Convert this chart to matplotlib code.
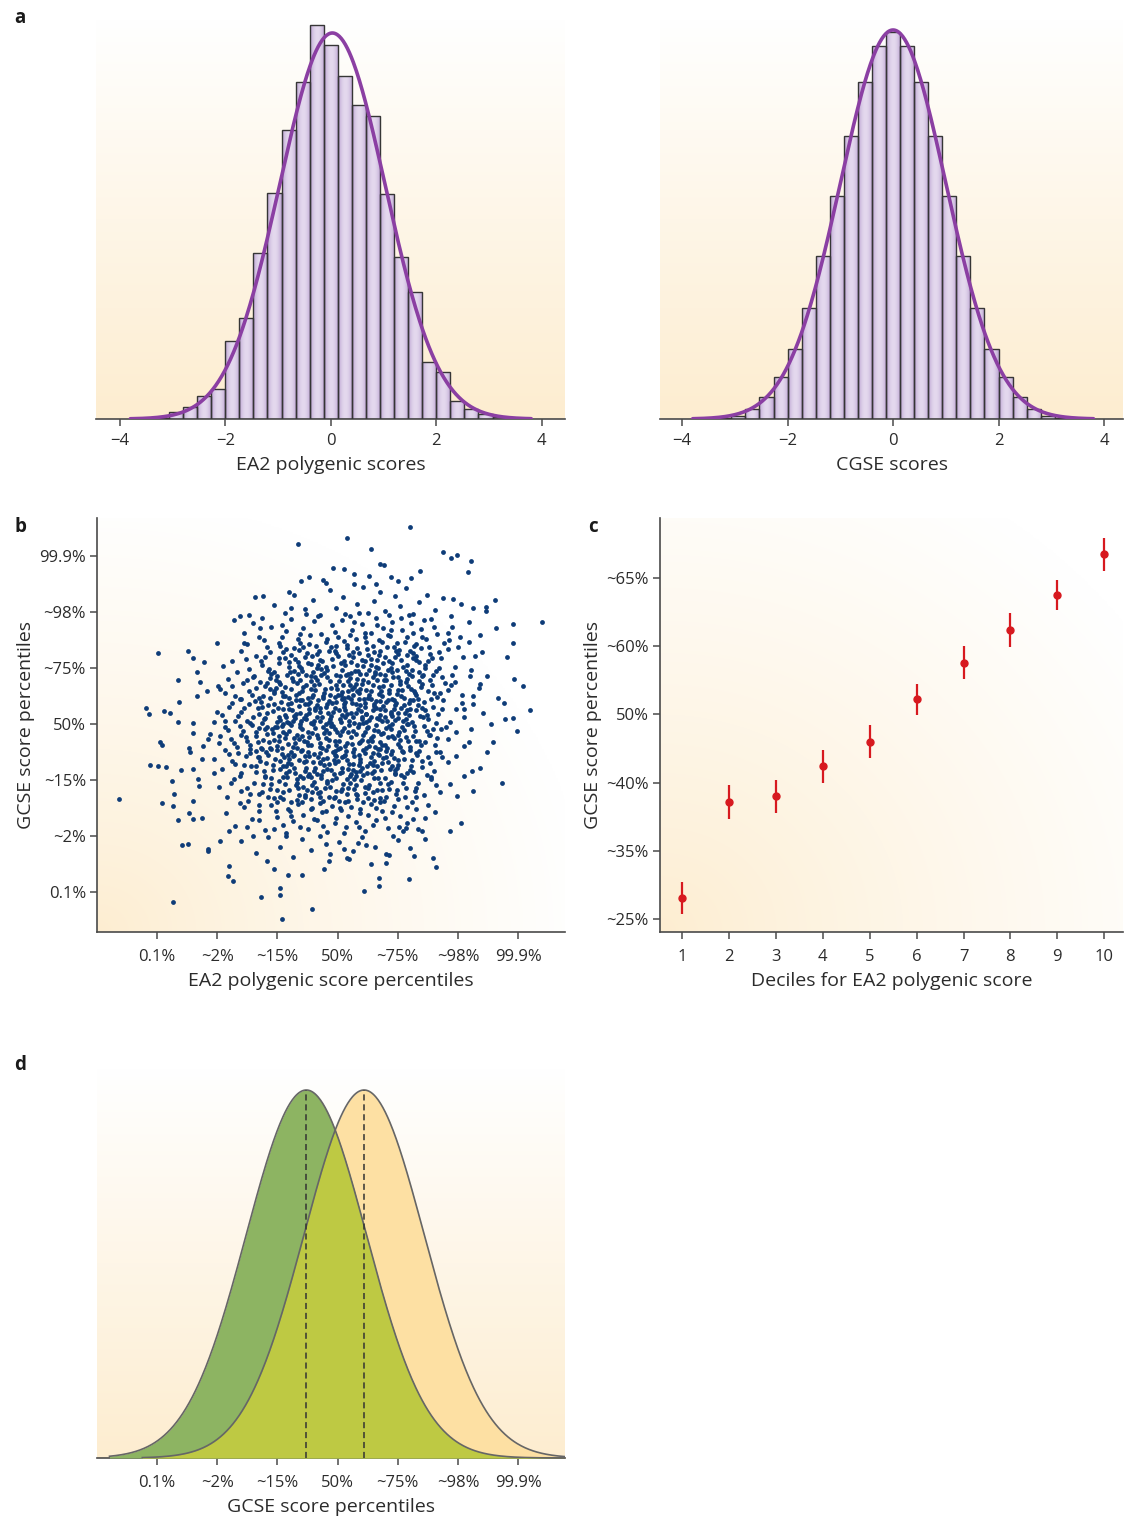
import numpy as np
import matplotlib.pyplot as plt
from matplotlib.colors import to_rgb

plt.rcParams['font.family'] = ['Open Sans', 'DejaVu Sans']
plt.rcParams['axes.unicode_minus'] = True

W, H = 1124, 1519

# ---------------- data ----------------
# panel a: histogram bins (width 4/15, one edge at -2), heights
a_bin_width = 4 / 15
a_first_edge = -2 - 5 * a_bin_width
ea2_counts = [1, 7, 12, 23, 30, 78, 101, 166, 226, 289, 337, 394, 374,
              343, 314, 303, 225, 162, 127, 57, 47, 18, 10, 5, 2, 1]
cgse_counts = [1, 3, 10, 22, 42, 70, 111, 163, 223, 283, 337, 373, 387,
               373, 337, 283, 223, 163, 111, 70, 42, 22, 10, 3, 1, 0]
# fitted normal curves: mean, sd, peak height
ea2_fit = (0.03, 1.0, 386)
cgse_fit = (0.0, 1.0, 389)
a_ticks = [-4, -2, 0, 2, 4]

# panel b / d percentile axis (z-score positions)
pct_pos = [-3, -2, -1, 0, 1, 2, 3]
pct_labels = ['0.1%', '~2%', '~15%', '50%', '~75%', '~98%', '99.9%']

# panel b: scatter points (EA2 z, GCSE z)
b_outer = [(-3.64,-1.34),(-3.19,0.29),(-3.13,0.17),(-2.98,1.27),(-3.12,-0.73),(-2.98,-0.75),(-2.86,-0.77),
    (-2.92,-1.41),(-2.74,-3.19),(-2.95,-0.33),(-2.92,-0.38),(-2.88,0.23),(-2.78,0.19),(-2.66,0.79),(-2.64,0.39),
    (-2.66,0.04),(-2.60,-0.83),(-2.75,-1.02),(-2.72,-1.26),(-2.74,-1.47),(-2.66,-1.71),(-2.59,-2.16),(-2.48,-2.14),
    (-2.49,1.30),(-2.41,1.18),(-2.33,0.93),(-2.28,0.74),(-2.34,0.50),(-2.41,0.02),(-2.41,-0.17),(-2.47,-0.44),
    (-2.46,-0.50),(-2.41,-0.81),(-2.32,-0.98),(-2.30,-1.11),(-2.41,-1.38),(-2.47,-1.59),(-2.41,-1.70),(-2.25,-1.68),
    (-2.22,1.11),(-2.17,0.59),(-2.15,-0.27),(-2.23,-0.39),(-2.26,-0.63),(-2.15,-2.23),(-2.16,-2.27),(-2.00,1.44),
    (-2.05,0.04),(-1.99,0.68),(-2.05,-0.87),(-1.95,-2.10),(-1.90,1.04),(-1.80,-1.92),(-1.80,-2.54),(-1.83,-2.72),
    (-1.74,-2.81),(-1.72,1.86),(-1.63,1.93),(-1.47,1.94),(-1.56,1.44),(-1.29,1.72),(-1.38,2.26),(-1.24,2.29),
    (-1.28,-3.09),(-1.18,-2.45),(-1.05,-2.60),(-0.95,-2.93),(-0.95,-3.05),(-0.92,-3.49),(-0.83,-2.70),(-0.80,2.36),
    (-0.77,2.07),(-0.66,3.22),(-0.61,2.56),(-0.47,2.63),(-0.25,2.57),(-0.08,2.79),(0.15,3.33),(0.10,2.76),
    (0.28,2.68),(0.28,2.50),(0.56,3.13),(0.53,2.65),(0.71,2.86),(0.77,2.84),(0.89,2.62),(1.21,3.52),(1.22,2.61),
    (1.37,2.74),(1.76,3.07),(1.89,2.96),(1.99,3.01),(2.22,2.92),(2.16,2.71),(1.92,2.24),(2.25,2.08),(2.46,2.09),
    (2.61,2.22),(2.46,2.01),(2.92,1.79),(3.40,1.82),(2.64,1.72),(2.82,1.20),(2.92,1.44),(3.09,0.68),(2.93,0.80),
    (3.19,0.25),(2.98,-0.13),(2.92,0.11),(2.79,0.08),(2.76,0.38),(2.67,0.47),(2.73,-1.05),(2.58,-0.33),(2.49,-0.51),
    (2.55,-0.01),(2.25,-1.20),(2.36,-0.78),(2.24,-0.84),(2.10,-0.93),(2.05,-1.77),(1.87,-1.92),(1.98,-1.29),
    (1.58,-2.39),(1.63,-2.56),(1.27,-2.36),(1.19,-2.78),(1.09,-1.92),(1.13,-1.86),(0.92,-2.01),(0.80,-2.33),
    (0.80,-2.48),(0.68,-2.75),(0.68,-2.90),(0.56,-2.51),(0.44,-2.99),(0.47,-2.16),(0.34,-2.13),(0.19,-2.42),
    (0.10,-2.24),(-0.14,-2.45),(-0.23,-2.60),(-0.42,-3.30),(-0.60,-2.70),(1.34,-1.88),(1.40,-1.91),(2.22,-0.10),
    (2.19,-0.33),(2.10,0.26),(2.07,0.38),(2.25,0.50),(2.37,0.71),(2.49,0.86),(2.28,1.22),(2.19,1.46),(2.36,1.58)]
b_core = [(-1.05,2.12),(-0.88,1.98),(-0.72,2.31),(-0.55,2.05),(-0.41,2.22),(-0.3,1.95),(-0.12,2.4),(-0.02,2.08),
    (0.09,2.27),(0.21,1.93),(0.33,2.15),(0.42,2.44),(0.5,1.99),(0.61,2.2),(0.7,2.36),(0.78,2.02),(0.86,1.94),
    (0.95,2.28),(1.04,2.1),(1.13,2.42),(1.25,1.97),(1.36,2.18),(1.49,2.3),(1.62,2.03),(1.75,2.25),(1.88,1.92),
    (2.05,2.14),(0.64,2.5),(-0.2,2.52),(1.01,2.55),
    (-1.55,1.62),(-1.4,1.81),(-1.22,1.5),(-1.1,1.74),(-0.98,1.45),(-0.85,1.66),(-0.77,1.88),(-0.66,1.52),
    (-0.58,1.71),(-0.47,1.43),(-0.39,1.84),(-0.28,1.6),(-0.2,1.47),(-0.1,1.77),(0.0,1.55),(0.07,1.86),(0.16,1.41),
    (0.24,1.68),(0.31,1.52),(0.4,1.79),(0.47,1.46),(0.55,1.63),(0.63,1.89),(0.69,1.5),(0.76,1.72),(0.84,1.58),
    (0.91,1.83),(0.99,1.44),(1.07,1.67),(1.15,1.55),(1.22,1.8),(1.3,1.42),(1.39,1.69),(1.47,1.51),(1.56,1.87),
    (1.66,1.6),(1.77,1.45),(1.9,1.73),(2.03,1.56),(2.18,1.82),(-0.52,1.96),(0.36,1.98),(1.19,1.95),
    (-1.75,1.12),(-1.6,1.31),(-1.48,0.98),(-1.36,1.22),(-1.25,1.05),(-1.17,1.37),(-1.06,0.93),(-0.97,1.18),
    (-0.9,1.29),(-0.81,1.02),(-0.73,1.35),(-0.66,1.11),(-0.59,0.95),(-0.51,1.26),(-0.44,1.07),(-0.36,1.39),
    (-0.29,1.15),(-0.22,0.91),(-0.14,1.3),(-0.07,1.04),(0.01,1.21),(0.08,0.97),(0.15,1.36),(0.22,1.1),(0.29,0.94),
    (0.35,1.27),(0.42,1.03),(0.49,1.33),(0.56,1.16),(0.62,0.92),(0.69,1.24),(0.75,1.08),(0.82,1.38),(0.88,0.99),
    (0.95,1.19),(1.02,1.32),(1.09,1.01),(1.16,1.23),(1.23,0.96),(1.31,1.14),(1.38,1.35),(1.46,1.06),(1.54,1.25),
    (1.63,0.94),(1.72,1.17),(1.83,1.33),(1.95,1.02),(2.08,1.2),(2.22,0.97),(2.4,1.28),(-0.02,1.4),(0.58,1.4),
    (1.27,1.39),(-0.95,1.4),(0.18,0.9),
    (-1.95,0.62),(-1.82,0.81),(-1.7,0.5),(-1.58,0.73),(-1.47,0.58),(-1.39,0.86),(-1.3,0.47),(-1.21,0.68),
    (-1.13,0.82),(-1.05,0.55),(-0.98,0.75),(-0.91,0.49),(-0.84,0.88),(-0.77,0.63),(-0.7,0.52),(-0.63,0.79),
    (-0.57,0.66),(-0.5,0.46),(-0.44,0.85),(-0.37,0.6),(-0.31,0.72),(-0.24,0.5),(-0.18,0.83),(-0.11,0.64),
    (-0.05,0.48),(0.02,0.77),(0.08,0.57),(0.14,0.87),(0.2,0.69),(0.26,0.51),(0.32,0.8),(0.38,0.62),(0.44,0.45),
    (0.5,0.74),(0.56,0.58),(0.62,0.89),(0.68,0.66),(0.74,0.49),(0.8,0.78),(0.86,0.6),(0.92,0.84),(0.98,0.53),
    (1.04,0.71),(1.1,0.46),(1.16,0.81),(1.22,0.63),(1.29,0.55),(1.35,0.76),(1.42,0.88),(1.5,0.59),(1.57,0.7),
    (1.65,0.48),(1.74,0.83),(1.84,0.61),(1.95,0.74),(2.07,0.52),(2.2,0.86),(2.35,0.64),(-0.66,0.9),(0.11,0.47),
    (0.71,0.9),(1.33,0.45),(-1.1,0.9),(0.47,0.9),(-0.28,0.88),
    (-2.0,0.21),(-1.88,0.05),(-1.76,0.37),(-1.65,0.14),(-1.55,0.29),(-1.46,0.02),(-1.38,0.41),(-1.3,0.18),
    (-1.22,0.08),(-1.15,0.33),(-1.08,0.23),(-1.01,0.03),(-0.94,0.39),(-0.88,0.15),(-0.81,0.27),(-0.75,0.06),
    (-0.69,0.43),(-0.62,0.2),(-0.56,0.11),(-0.5,0.35),(-0.44,0.01),(-0.38,0.25),(-0.32,0.42),(-0.26,0.13),
    (-0.2,0.31),(-0.14,0.04),(-0.08,0.22),(-0.02,0.4),(0.04,0.09),(0.1,0.3),(0.16,0.17),(0.22,0.44),(0.28,0.02),
    (0.34,0.26),(0.4,0.12),(0.46,0.38),(0.52,0.07),(0.58,0.24),(0.64,0.41),(0.7,0.16),(0.76,0.32),(0.82,0.05),
    (0.88,0.21),(0.94,0.43),(1.0,0.1),(1.06,0.28),(1.12,0.19),(1.18,0.37),(1.24,0.03),(1.3,0.24),(1.37,0.14),
    (1.44,0.4),(1.51,0.08),(1.59,0.3),(1.67,0.18),(1.76,0.42),(1.86,0.04),(1.97,0.27),(2.1,0.12),(2.25,0.35),
    (2.42,0.2),(-0.9,0.0),(-0.47,0.19),(0.07,0.45),(0.55,0.45),(1.15,0.0),(-0.11,0.14),(0.31,0.35),(0.79,0.12),
    (-1.6,0.44),
    (-2.12,-0.18),(-1.98,-0.35),(-1.87,-0.06),(-1.77,-0.27),(-1.67,-0.41),(-1.58,-0.12),(-1.5,-0.3),(-1.42,-0.02),
    (-1.35,-0.22),(-1.28,-0.44),(-1.21,-0.09),(-1.14,-0.33),(-1.07,-0.16),(-1.0,-0.39),(-0.93,-0.04),(-0.87,-0.25),
    (-0.8,-0.13),(-0.74,-0.42),(-0.68,-0.2),(-0.62,-0.01),(-0.56,-0.31),(-0.5,-0.15),(-0.44,-0.37),(-0.38,-0.07),
    (-0.32,-0.26),(-0.26,-0.43),(-0.2,-0.11),(-0.14,-0.29),(-0.08,-0.03),(-0.02,-0.38),(0.04,-0.19),(0.1,-0.08),
    (0.16,-0.34),(0.22,-0.23),(0.28,-0.45),(0.34,-0.05),(0.4,-0.28),(0.46,-0.14),(0.52,-0.4),(0.58,-0.21),
    (0.64,-0.02),(0.7,-0.32),(0.76,-0.17),(0.82,-0.44),(0.88,-0.1),(0.94,-0.26),(1.0,-0.36),(1.07,-0.06),
    (1.14,-0.24),(1.21,-0.41),(1.28,-0.13),(1.36,-0.3),(1.44,-0.04),(1.53,-0.2),(1.62,-0.38),(1.72,-0.1),
    (1.83,-0.27),(1.96,-0.15),(2.1,-0.4),(-1.1,-0.45),(-0.35,-0.2),(0.25,-0.12),(0.67,-0.45),(1.17,0.0),
    (-0.71,-0.34),(0.01,-0.45),(0.5,-0.3),(-1.6,-0.2),(0.9,-0.01),(-0.15,-0.17),
    (-2.05,-0.62),(-1.92,-0.8),(-1.8,-0.53),(-1.7,-0.71),(-1.61,-0.88),(-1.52,-0.58),(-1.44,-0.76),(-1.36,-0.49),
    (-1.29,-0.67),(-1.22,-0.85),(-1.15,-0.55),(-1.08,-0.73),(-1.01,-0.47),(-0.95,-0.81),(-0.89,-0.6),(-0.83,-0.7),
    (-0.77,-0.5),(-0.71,-0.87),(-0.65,-0.64),(-0.59,-0.46),(-0.53,-0.78),(-0.47,-0.57),(-0.41,-0.68),(-0.35,-0.89),
    (-0.29,-0.52),(-0.23,-0.74),(-0.17,-0.61),(-0.11,-0.83),(-0.05,-0.48),(0.01,-0.66),(0.07,-0.79),(0.13,-0.56),
    (0.19,-0.72),(0.25,-0.5),(0.31,-0.86),(0.37,-0.63),(0.43,-0.47),(0.49,-0.75),(0.55,-0.59),(0.61,-0.84),
    (0.67,-0.54),(0.73,-0.7),(0.8,-0.49),(0.87,-0.8),(0.94,-0.61),(1.01,-0.73),(1.08,-0.51),(1.16,-0.88),
    (1.24,-0.65),(1.32,-0.55),(1.41,-0.77),(1.5,-0.6),(1.6,-0.85),(1.71,-0.5),(1.83,-0.69),(1.97,-0.57),
    (-0.48,-0.9),(0.22,-0.9),(-1.25,-0.45),(0.6,-0.66),(-0.05,-0.7),(0.95,-0.9),(-0.8,-0.62),(0.35,-0.74),
    (1.2,-0.46),
    (-1.98,-1.12),(-1.84,-1.3),(-1.72,-0.98),(-1.6,-1.2),(-1.49,-1.37),(-1.39,-1.05),(-1.3,-1.25),(-1.21,-0.93),
    (-1.13,-1.16),(-1.05,-1.33),(-0.98,-1.02),(-0.91,-1.22),(-0.84,-0.95),(-0.77,-1.4),(-0.7,-1.1),(-0.64,-1.28),
    (-0.57,-0.97),(-0.51,-1.18),(-0.45,-1.35),(-0.39,-1.04),(-0.33,-1.24),(-0.27,-0.92),(-0.21,-1.14),
    (-0.15,-1.31),(-0.09,-1.0),(-0.03,-1.2),(0.03,-1.38),(0.09,-1.07),(0.15,-1.26),(0.21,-0.94),(0.27,-1.17),
    (0.33,-1.34),(0.39,-1.01),(0.46,-1.23),(0.53,-1.09),(0.6,-1.36),(0.67,-0.96),(0.74,-1.19),(0.81,-1.3),
    (0.89,-1.03),(0.97,-1.25),(1.05,-0.91),(1.14,-1.15),(1.23,-1.39),(1.33,-1.06),(1.44,-1.27),(1.56,-0.99),
    (1.7,-1.21),(1.86,-1.08),(-0.6,-1.4),(0.12,-1.4),(-1.0,-1.4),(0.42,-1.4),(-0.25,-1.38),(0.7,-1.4),
    (-1.85,-1.6),(-1.7,-1.82),(-1.56,-1.48),(-1.43,-1.7),(-1.31,-1.55),(-1.2,-1.9),(-1.1,-1.45),(-1.0,-1.66),
    (-0.91,-1.8),(-0.82,-1.52),(-0.74,-1.74),(-0.66,-1.44),(-0.58,-1.63),(-0.5,-1.88),(-0.42,-1.5),(-0.34,-1.72),
    (-0.26,-1.58),(-0.18,-1.93),(-0.1,-1.46),(-0.02,-1.68),(0.06,-1.54),(0.14,-1.84),(0.22,-1.49),(0.3,-1.75),
    (0.38,-1.6),(0.46,-1.92),(0.55,-1.43),(0.64,-1.71),(0.73,-1.56),(0.83,-1.86),(0.93,-1.47),(1.04,-1.65),
    (1.16,-1.78),(1.3,-1.52),(1.45,-1.69),(1.62,-1.58),(-0.85,-1.95),(0.1,-1.95),(-0.3,-1.42),(0.5,-1.62),
    (-1.6,-2.1),(-1.35,-2.3),(-1.15,-2.02),(-0.95,-2.2),(-0.75,-2.38),(-0.6,-2.05),(-0.45,-2.25),(-0.3,-2.0),
    (-0.12,-2.32),(0.02,-2.12),(0.25,-2.28),(0.4,-2.02),(0.62,-2.2),(0.85,-2.35),(1.0,-2.08),(1.2,-2.22),
    (-0.85,-2.0),(0.15,-2.4),(-0.2,-2.15),(1.45,-2.05),
    (-0.95,0.72),(-0.83,0.35),(-0.72,0.95),(-0.6,0.58),(-0.48,0.27),(-0.37,0.84),(-0.25,0.47),(-0.13,0.08),
    (-0.01,0.63),(0.11,0.36),(0.23,0.91),(0.35,0.55),(0.47,0.18),(0.59,0.69),(0.71,0.41),(0.83,0.97),(0.95,0.33),
    (1.07,0.6),(1.19,0.9),(1.31,0.52),(-0.97,-0.22),(-0.85,0.12),(-0.73,-0.55),(-0.61,0.05),(-0.49,-0.38),
    (-0.37,0.29),(-0.25,-0.62),(-0.13,0.52),(-0.01,-0.14),(0.11,-0.58),(0.23,0.2),(0.35,-0.35),(0.47,0.03),
    (0.59,-0.52),(0.71,0.26),(0.83,-0.23),(0.95,0.07),(1.07,-0.48),(1.19,0.15),(1.31,-0.31),(-0.9,-0.95),
    (-0.78,-0.72),(-0.66,-1.15),(-0.54,-0.85),(-0.42,-1.22),(-0.3,-0.7),(-0.18,-1.05),(-0.06,-0.9),(0.06,-1.2),
    (0.18,-0.8),(0.3,-1.1),(0.42,-0.92),(0.54,-0.7),(0.66,-1.18),(0.78,-0.96),(0.9,-0.75),(-0.8,1.1),(-0.65,1.32),
    (-0.5,1.08),(-0.35,1.25),(-0.2,1.02),(-0.05,1.3),(0.1,1.13),(0.25,1.28),(0.4,1.15),(0.55,1.06),(0.7,1.3),
    (0.85,1.12),(1.0,1.25),(1.15,1.05),(1.3,1.22),(1.45,1.0),(-1.25,0.3),(-1.18,-0.05),(-1.3,-0.6),(-1.12,0.62),
    (1.45,0.25),(1.52,-0.2),(1.6,0.55),(1.4,0.85),(-0.44,0.62),(0.18,0.58),(0.77,0.79),(-0.16,-0.4),(0.42,-0.2),
    (0.66,0.1),(-0.6,-0.22),(0.02,0.25),(0.3,0.72),(-0.3,0.05),(0.9,0.45),(1.1,0.34),(-0.7,0.18),(0.5,-0.05),
    (-0.05,-0.55),(0.25,-0.72),(0.8,-0.6),(-0.45,-0.95),(1.0,-0.2),(0.6,0.32)]
b_core_dense = [(-0.93,1.77),(-0.62,1.6),(-0.33,1.92),(-0.05,1.65),(0.12,1.97),(0.28,1.83),(0.45,1.62),(0.66,1.76),
    (0.88,1.68),(1.05,1.9),(1.26,1.63),(1.43,1.85),(1.6,1.74),(1.83,1.62),(-1.25,1.9),
    (-1.5,1.42),(-1.3,1.55),(-1.12,1.28),(-0.93,1.56),(-0.78,1.24),(-0.62,1.44),(-0.46,1.58),(-0.31,1.3),
    (-0.17,1.52),(-0.03,1.26),(0.1,1.48),(0.2,1.59),(0.33,1.36),(0.45,1.55),(0.6,1.28),(0.73,1.46),(0.87,1.57),
    (0.97,1.3),(1.12,1.47),(1.25,1.27),(1.4,1.56),(1.52,1.37),(1.68,1.29),(1.85,1.5),(2.0,1.38),
    (-1.68,0.93),(-1.52,1.16),(-1.4,0.84),(-1.27,1.13),(-1.14,0.98),(-1.0,0.85),(-0.87,1.17),(-0.76,0.82),
    (-0.64,1.04),(-0.55,1.19),(-0.41,0.93),(-0.32,1.06),(-0.18,0.96),(-0.09,1.16),(0.04,0.86),(0.13,1.05),
    (0.26,1.19),(0.37,0.89),(0.46,1.12),(0.53,0.97),(0.66,1.14),(0.79,0.88),(0.9,1.09),(1.0,0.83),(1.13,0.95),
    (1.26,1.18),(1.35,0.92),(1.5,1.13),(1.68,1.0),(1.9,0.87),
    (-1.88,0.55),(-1.75,0.68),(-1.62,0.44),(-1.5,0.78),(-1.35,0.64),(-1.24,0.49),(-1.17,0.73),(-1.02,0.64),
    (-0.93,0.57),(-0.8,0.46),(-0.74,0.76),(-0.63,0.42),(-0.53,0.7),(-0.41,0.52),(-0.34,0.79),(-0.21,0.62),
    (-0.15,0.41),(-0.03,0.7),(0.05,0.52),(0.17,0.77),(0.24,0.62),(0.36,0.44),(0.41,0.72),(0.53,0.52),(0.65,0.78),
    (0.72,0.58),(0.84,0.43),(0.89,0.7),(1.01,0.6),(1.13,0.74),(1.25,0.42),(1.38,0.66),(1.53,0.79),(1.7,0.56),
    (1.88,0.69),
    (-1.92,0.15),(-1.8,0.3),(-1.7,0.06),(-1.6,0.22),(-1.48,0.35),(-1.41,0.12),(-1.33,0.28),(-1.25,0.01),
    (-1.17,0.2),(-1.05,0.36),(-0.98,0.12),(-0.91,0.26),(-0.84,0.03),(-0.78,0.38),(-0.71,0.1),(-0.65,0.32),
    (-0.53,0.16),(-0.46,0.4),(-0.4,0.06),(-0.29,0.21),(-0.17,0.36),(-0.11,0.02),(-0.05,0.29),(0.07,0.16),
    (0.13,0.39),(0.19,0.06),(0.31,0.2),(0.37,0.34),(0.43,0.01),(0.55,0.13),(0.61,0.35),(0.73,0.05),(0.79,0.25),
    (0.91,0.14),(0.97,0.37),(1.09,0.06),(1.21,0.27),(1.33,0.33),(1.48,0.16),(1.63,0.02),
    (-1.95,-0.22),(-1.82,-0.11),(-1.72,-0.34),(-1.63,-0.03),(-1.53,-0.24),(-1.45,-0.38),(-1.31,-0.08),
    (-1.24,-0.29),(-1.17,-0.18),(-1.04,-0.05),(-0.97,-0.3),(-0.9,-0.14),(-0.83,-0.36),(-0.77,-0.02),(-0.65,-0.27),
    (-0.59,-0.09),(-0.47,-0.24),(-0.41,-0.01),(-0.29,-0.35),(-0.23,-0.16),(-0.11,-0.04),(-0.05,-0.31),(0.07,-0.12),
    (0.13,-0.39),(0.19,-0.02),(0.31,-0.18),(0.37,-0.33),(0.49,-0.07),(0.55,-0.25),(0.67,-0.13),(0.73,-0.38),
    (0.85,-0.04),(0.91,-0.21),(1.03,-0.29),(1.1,-0.11),(1.25,-0.22),(1.39,-0.37),(1.48,-0.12),(1.66,-0.25),
    (1.8,-0.05),
    (-1.88,-0.47),(-1.76,-0.66),(-1.65,-0.52),(-1.55,-0.74),(-1.46,-0.45),(-1.33,-0.6),(-1.19,-0.7),(-1.12,-0.44),
    (-1.04,-0.62),(-0.92,-0.53),(-0.86,-0.76),(-0.74,-0.58),(-0.68,-0.44),(-0.56,-0.69),(-0.5,-0.51),(-0.38,-0.78),
    (-0.32,-0.6),(-0.2,-0.46),(-0.14,-0.71),(-0.02,-0.57),(0.04,-0.44),(0.16,-0.65),(0.28,-0.58),(0.4,-0.79),
    (0.46,-0.52),(0.58,-0.74),(0.7,-0.45),(0.76,-0.61),(0.88,-0.53),(0.98,-0.78),(1.11,-0.62),(1.22,-0.76),
    (1.36,-0.48),(1.54,-0.7),(1.73,-0.6),
    (-1.78,-1.05),(-1.62,-0.93),(-1.5,-1.15),(-1.36,-0.86),(-1.24,-1.08),(-1.1,-0.97),(-1.0,-1.18),(-0.88,-1.08),
    (-0.8,-0.84),(-0.68,-0.99),(-0.58,-1.12),(-0.49,-0.93),(-0.36,-1.15),(-0.24,-0.84),(-0.12,-1.12),(-0.02,-0.97),
    (0.08,-0.86),(0.18,-1.15),(0.28,-0.98),(0.37,-0.84),(0.5,-1.14),(0.57,-0.87),(0.7,-1.06),(0.85,-1.17),
    (0.95,-0.88),(1.08,-1.05),(1.2,-0.83),(1.3,-1.15),(1.48,-0.92),(1.63,-1.1),
    (-1.62,-1.42),(-1.45,-1.25),(-1.3,-1.45),(-1.16,-1.3),(-1.02,-1.55),(-0.9,-1.35),(-0.79,-1.55),(-0.68,-1.36),
    (-0.55,-1.27),(-0.44,-1.52),(-0.3,-1.31),(-0.2,-1.55),(-0.06,-1.33),(0.04,-1.5),(0.18,-1.38),(0.3,-1.26),
    (0.37,-1.52),(0.5,-1.32),(0.63,-1.5),(0.77,-1.38),(0.9,-1.58),(1.0,-1.34),(1.15,-1.48),(1.3,-1.3),(1.5,-1.45),
    (-1.5,-1.85),(-1.3,-1.72),(-1.05,-1.88),(-0.78,-1.65),(-0.62,-1.85),(-0.4,-1.7),(-0.25,-1.82),(-0.05,-1.78),
    (0.18,-1.65),(0.35,-1.85),(0.58,-1.8),(0.78,-1.68),(1.02,-1.85),(1.25,-1.7),(-1.4,-2.0)]
b_core_center = [(-0.98,1.08),(-0.86,1.33),(-0.71,1.16),(-0.57,1.37),(-0.43,1.21),(-0.26,1.12),(-0.11,1.38),
    (0.05,1.09),(0.19,1.23),(0.32,1.06),(0.51,1.24),(0.64,1.01),(0.79,1.2),(0.93,1.37),(1.06,1.14),(1.21,1.31),
    (1.35,1.1),(1.57,1.18),(-1.2,1.2),(-0.35,1.0),
    (-1.29,0.75),(-1.16,0.95),(-1.03,0.79),(-0.88,0.66),(-0.79,0.92),(-0.68,0.73),(-0.52,0.87),(-0.39,0.7),
    (-0.27,0.98),(-0.13,0.76),(-0.02,0.88),(0.09,0.69),(0.21,0.82),(0.34,0.95),(0.43,0.79),(0.58,0.84),(0.67,0.99),
    (0.76,0.68),(0.91,0.93),(1.03,0.77),(1.17,0.67),(1.24,0.86),(1.41,0.72),(1.59,0.87),(1.78,0.73),(-0.45,0.77),
    (0.27,0.66),(0.99,0.97),(-0.61,0.99),(0.48,0.61),
    (-1.42,0.52),(-1.27,0.39),(-1.13,0.47),(-0.99,0.28),(-0.87,0.5),(-0.76,0.24),(-0.65,0.55),(-0.55,0.36),
    (-0.42,0.48),(-0.3,0.29),(-0.22,0.56),(-0.09,0.38),(0.0,0.51),(0.12,0.25),(0.24,0.37),(0.33,0.59),(0.39,0.23),
    (0.51,0.47),(0.63,0.28),(0.69,0.53),(0.81,0.4),(0.93,0.27),(1.05,0.49),(1.15,0.24),(1.27,0.58),(1.4,0.29),
    (1.56,0.44),(1.73,0.27),(-0.35,0.33),(0.18,0.48),(0.86,0.56),(-1.05,0.58),(0.45,0.3),(-0.6,0.42),(1.2,0.43),
    (-1.5,0.05),(-1.36,-0.14),(-1.2,0.11),(-1.09,-0.1),(-0.96,0.07),(-0.86,-0.18),(-0.73,0.14),(-0.63,-0.06),
    (-0.52,0.09),(-0.43,-0.17),(-0.34,0.12),(-0.24,-0.06),(-0.16,0.19),(-0.04,-0.09),(0.05,0.04),(0.17,-0.15),
    (0.26,0.13),(0.36,-0.01),(0.48,0.17),(0.6,-0.11),(0.68,0.08),(0.8,-0.07),(0.89,0.18),(1.02,-0.14),(1.13,0.09),
    (1.27,-0.04),(1.42,0.12),(1.58,-0.09),(-0.2,0.0),(0.4,0.08),(1.0,0.2),(-0.8,0.02),(0.72,-0.18),(-1.0,-0.05),
    (0.12,0.12),
    (-1.46,-0.52),(-1.32,-0.33),(-1.19,-0.5),(-1.06,-0.28),(-0.93,-0.43),(-0.82,-0.55),(-0.72,-0.26),(-0.61,-0.48),
    (-0.51,-0.33),(-0.39,-0.54),(-0.3,-0.42),(-0.19,-0.25),(-0.08,-0.5),(0.03,-0.3),(0.14,-0.49),(0.24,-0.36),
    (0.35,-0.56),(0.47,-0.43),(0.57,-0.3),(0.69,-0.55),(0.79,-0.38),(0.9,-0.49),(1.04,-0.41),(1.17,-0.3),
    (1.3,-0.52),(1.46,-0.32),(1.63,-0.5),(-0.55,-0.58),(0.08,-0.6),(0.62,-0.42),
    (-1.35,-0.75),(-1.2,-0.95),(-1.07,-0.83),(-0.96,-0.67),(-0.85,-0.88),(-0.73,-0.79),(-0.62,-0.93),(-0.52,-0.66),
    (-0.4,-0.85),(-0.28,-0.97),(-0.18,-0.8),(-0.06,-0.65),(0.04,-0.87),(0.15,-0.98),(0.26,-0.83),(0.38,-0.68),
    (0.49,-0.88),(0.6,-0.97),(0.72,-0.82),(0.83,-0.69),(0.96,-0.82),(1.1,-0.95),(1.25,-0.86),(1.4,-0.66),
    (1.56,-0.95),(-0.3,-0.68),(0.3,-0.94),(-0.9,-0.75),(0.65,-0.75),(1.0,-0.65),
    (-1.25,-1.22),(-1.1,-1.08),(-0.95,-1.3),(-0.8,-1.18),(-0.67,-1.05),(-0.55,-1.3),(-0.42,-1.1),(-0.3,-1.22),
    (-0.17,-1.02),(-0.05,-1.3),(0.07,-1.16),(0.2,-1.05),(0.32,-1.28),(0.45,-1.12),(0.58,-1.22),(0.71,-1.32),
    (0.84,-1.08),(0.98,-1.18),(1.12,-1.3),(1.28,-1.2)]

# panel c: mean GCSE position per EA2 decile (tick units) with error bars
c_deciles = [1, 2, 3, 4, 5, 6, 7, 8, 9, 10]
c_means = [-2.69, -1.29, -1.20, -0.76, -0.40, 0.22, 0.76, 1.24, 1.75, 2.35]
c_errors = [0.24, 0.25, 0.24, 0.24, 0.24, 0.23, 0.24, 0.25, 0.22, 0.24]
c_ytick_pos = [-3, -2, -1, 0, 1, 2]
c_ytick_labels = ['~25%', '~35%', '~40%', '50%', '~60%', '~65%']

# panel d: two normal curves (mean in z units, sd)
d_low = (-0.52, 1.0)
d_high = (0.44, 1.0)

# ---------------- style ----------------
TXT = '#2b2b2b'
SPINE = '#4a4a4a'
CREAM = '#fdedd0'
WHITE = '#ffffff'
TICK_FS = 12
LABEL_FS = 14


def axpos(l, t, r, b):
    return [l / W, 1 - b / H, (r - l) / W, (b - t) / H]


def vertical_bg(ax, top=WHITE, bottom=CREAM):
    t = np.linspace(0, 1, 256)[:, None]
    c0, c1 = np.array(to_rgb(bottom)), np.array(to_rgb(top))
    img = c0 + (c1 - c0) * t[..., None]
    ax.imshow(img, extent=(0, 1, 0, 1), origin='lower', transform=ax.transAxes,
              aspect='auto', zorder=0, interpolation='bilinear')


def radial_bg(ax, r=1.0):
    xx, yy = np.meshgrid(np.linspace(0, 1, 300), np.linspace(0, 1, 300))
    t = np.clip(np.hypot(xx, yy) / r, 0, 1) ** 0.8
    c0, c1 = np.array(to_rgb(CREAM)), np.array(to_rgb(WHITE))
    img = c0 + (c1 - c0) * t[..., None]
    ax.imshow(img, extent=(0, 1, 0, 1), origin='lower', transform=ax.transAxes,
              aspect='auto', zorder=0, interpolation='bilinear')


def style_axes(ax, left=True, xpad=3):
    for s in ['top', 'right']:
        ax.spines[s].set_visible(False)
    ax.spines['left'].set_visible(left)
    for s in ['left', 'bottom']:
        ax.spines[s].set_color(SPINE)
        ax.spines[s].set_linewidth(1.2)
    ax.tick_params(direction='out', length=5, width=1.1, color=SPINE,
                   labelcolor=TXT, labelsize=TICK_FS, pad=3)
    ax.tick_params(axis='x', pad=xpad)
    if not left:
        ax.set_yticks([])


def histogram(ax, counts, fit, xlim, label):
    vertical_bg(ax)
    edges = a_first_edge + a_bin_width * np.arange(len(counts) + 1)
    edge_c = np.array(to_rgb('#b89ecf'))
    mid_c = np.array(to_rgb('#e4d9ee'))
    prof = 1 - np.linspace(-1, 1, 64) ** 2
    grad = (edge_c + (mid_c - edge_c) * prof[:, None])[None, :, :]
    for x0, h in zip(edges[:-1], counts):
        if h <= 0:
            continue
        ax.imshow(grad, extent=(x0, x0 + a_bin_width, 0, h), aspect='auto',
                  zorder=2, interpolation='bilinear')
    ax.bar(edges[:-1], counts, width=a_bin_width, align='edge', facecolor='none',
           edgecolor='#363636', linewidth=1.0, zorder=3)
    mu, sd, peak = fit
    xs = np.linspace(-3.8, 3.8, 400)
    ax.plot(xs, peak * np.exp(-0.5 * ((xs - mu) / sd) ** 2), color='#8b3fa3',
            lw=2.6, zorder=4, solid_capstyle='round')
    style_axes(ax, left=False, xpad=5)
    ax.set_xticks(a_ticks)
    ax.set_xlim(*xlim)
    ax.set_ylim(0, 400)
    ax.set_xlabel(label, fontsize=LABEL_FS, color=TXT, labelpad=5)


fig = plt.figure(figsize=(W / 100, H / 100), dpi=100)

# ---- panel a ----
ax_a1 = fig.add_axes(axpos(96, 19, 565, 419))
histogram(ax_a1, ea2_counts, ea2_fit, (-4.45, 4.44), 'EA2 polygenic scores')
ax_a2 = fig.add_axes(axpos(660, 19, 1123, 419))
histogram(ax_a2, cgse_counts, cgse_fit, (-4.42, 4.36), 'CGSE scores')

# ---- panel b ----
ax_b = fig.add_axes(axpos(97, 518, 565, 932))
radial_bg(ax_b, r=1.05)
pts = np.array(b_outer + b_core + b_core_dense + b_core_center)
ax_b.scatter(pts[:, 0], pts[:, 1], s=12, color='#0e3c78', linewidths=0, zorder=3)
style_axes(ax_b, xpad=7)
ax_b.set_xticks(pct_pos)
ax_b.set_xticklabels(pct_labels)
ax_b.set_yticks(pct_pos)
ax_b.set_yticklabels(pct_labels)
ax_b.set_xlim(-4.0, 3.78)
ax_b.set_ylim(-3.72, 3.68)
ax_b.set_xlabel('EA2 polygenic score percentiles', fontsize=LABEL_FS, color=TXT, labelpad=5)
ax_b.set_ylabel('GCSE score percentiles', fontsize=LABEL_FS, color=TXT, labelpad=3)

# ---- panel c ----
ax_c = fig.add_axes(axpos(660, 518, 1123, 932))
radial_bg(ax_c, r=1.25)
ax_c.errorbar(c_deciles, c_means, yerr=c_errors, fmt='o', color='#d7191f',
              markersize=5, elinewidth=1.6, capsize=0, zorder=3)
style_axes(ax_c, xpad=7)
ax_c.set_xticks(c_deciles)
ax_c.set_yticks(c_ytick_pos)
ax_c.set_yticklabels(c_ytick_labels)
ax_c.set_xlim(0.53, 10.4)
ax_c.set_ylim(-3.19, 2.88)
ax_c.set_xlabel('Deciles for EA2 polygenic score', fontsize=LABEL_FS, color=TXT, labelpad=5)
ax_c.set_ylabel('GCSE score percentiles', fontsize=LABEL_FS, color=TXT, labelpad=3)

# ---- panel d ----
ax_d = fig.add_axes(axpos(97, 1068, 565, 1458))
vertical_bg(ax_d)
xs = np.linspace(-4.0, 3.78, 600)


def curve(mu, sd):
    return np.exp(-0.5 * ((xs - mu) / sd) ** 2) / (sd * np.sqrt(2 * np.pi))


g = curve(*d_low)
y = curve(*d_high)
g_mask = xs >= -3.8
y_mask = xs >= -3.25
ax_d.fill_between(xs[y_mask], 0, y[y_mask], color='#fde0a3', lw=0, zorder=2)
ax_d.fill_between(xs[g_mask], 0, g[g_mask], color='#8db462', lw=0, zorder=3)
ax_d.fill_between(xs[y_mask], 0, np.minimum(g, y)[y_mask], color='#bec943', lw=0, zorder=4)
ax_d.plot(xs[y_mask], y[y_mask], color='#666666', lw=1.2, zorder=5)
ax_d.plot(xs[g_mask], g[g_mask], color='#666666', lw=1.2, zorder=5)
for mu, sd in (d_low, d_high):
    ax_d.vlines(mu, 0, 1 / (sd * np.sqrt(2 * np.pi)), colors='#333333',
                linestyles=(0, (4, 2.5)), lw=1.1, zorder=6)
style_axes(ax_d, left=False, xpad=7)
ax_d.set_xticks(pct_pos)
ax_d.set_xticklabels(pct_labels)
ax_d.set_xlim(-4.0, 3.78)
ax_d.set_ylim(0, 0.4228)
ax_d.set_xlabel('GCSE score percentiles', fontsize=LABEL_FS, color=TXT, labelpad=5)

# panel letters
for letter, (px, py) in zip('abcd', [(14, 18), (14, 527), (588, 527), (14, 1065)]):
    fig.text(px / W, 1 - py / H, letter, fontsize=13.5, fontweight='bold',
             color='#1a1a1a', va='center', ha='left')

fig.savefig('out.png', dpi=100)
